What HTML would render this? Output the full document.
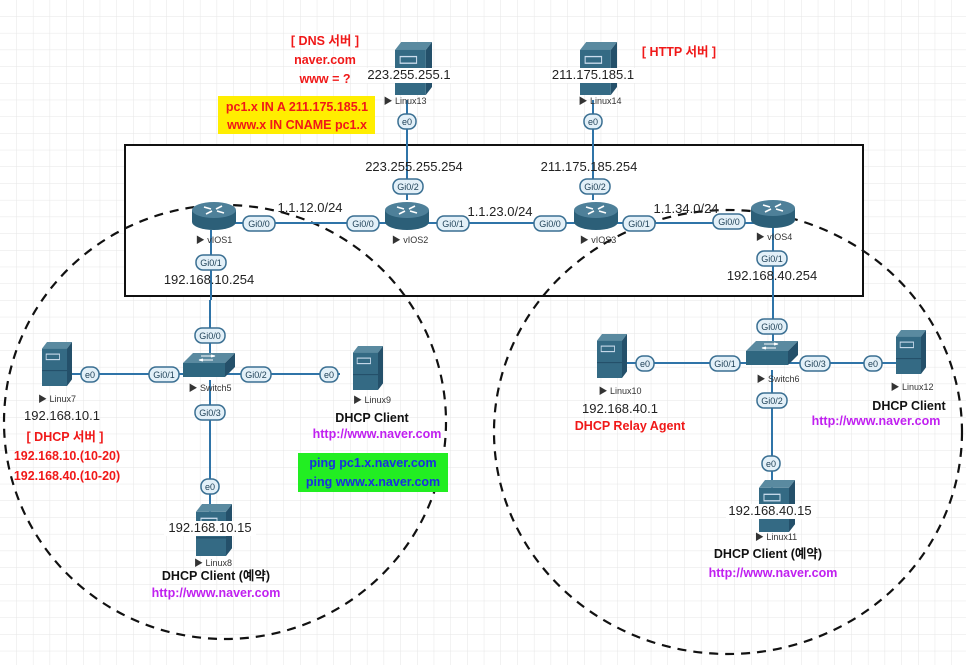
<!DOCTYPE html>
<html><head><meta charset="utf-8"><style>
html,body{margin:0;padding:0;background:#fff}
svg{display:block}
text{font-family:"Liberation Sans","Noto Sans CJK KR",sans-serif}
.ip{font-size:13px;fill:#222}
.nl{font-size:9px;fill:#333}
.pl{font-size:9px;fill:#1d3f55}
.red{font-size:12.5px;font-weight:bold;fill:#f01818}
.blk{font-size:12.5px;font-weight:bold;fill:#111}
.mag{font-size:12.5px;font-weight:bold;fill:#c020f0}
.blu{font-size:12.5px;font-weight:bold;fill:#1830e0}
</style></head><body>
<svg width="966" height="665" viewBox="0 0 966 665" xmlns="http://www.w3.org/2000/svg">
<defs>
<pattern id="g" width="16.7" height="16.7" patternUnits="userSpaceOnUse">
<path d="M16.7 0V16.7H0" fill="none" stroke="#e6e6e6" stroke-width="1"/>
</pattern>
<symbol id="srv" viewBox="0 0 36 40" preserveAspectRatio="none" overflow="visible">
<polygon points="0,6 6,0 36,0 30,6" fill="#5a8aa0"/>
<polygon points="30,6 36,0 36,34 30,40" fill="#24506a"/>
<rect x="0" y="6" width="30" height="34" fill="#346a84"/>
<rect x="5" y="11" width="16" height="5" fill="none" stroke="#cde" stroke-width="1"/>
<line x1="0" y1="26" x2="30" y2="26" stroke="#24506a"/>
</symbol>
<symbol id="rtr" viewBox="0 0 44 30" overflow="visible">
<rect x="0" y="10" width="44" height="12" fill="#2c5f78"/>
<ellipse cx="22" cy="22" rx="22" ry="8" fill="#2c5f78"/>
<ellipse cx="22" cy="10" rx="22" ry="8" fill="#4e8099"/>
<path d="M12 7l7 2M32 13l-7-2M14 14l6-3M30 6l-6 3" stroke="#fff" stroke-width="1.6"/>
</symbol>
<symbol id="sw" viewBox="0 0 52 24" overflow="visible">
<polygon points="0,10 10,0 52,0 42,10" fill="#5a8aa0"/>
<polygon points="42,10 52,0 52,14 42,24" fill="#24506a"/>
<rect x="0" y="10" width="42" height="14" fill="#2f6780"/>
<path d="M18 3h14M16 7h14M28 2l4 1-4 1M20 6l-4 1 4 1" stroke="#fff" stroke-width="1" fill="none"/>
</symbol>
</defs>
<rect width="966" height="665" fill="url(#g)"/>
<rect x="125" y="145" width="738" height="151" fill="#fff" stroke="#111" stroke-width="2"/>

<ellipse cx="225" cy="422" rx="221" ry="217" fill="none" stroke="#111" stroke-width="2.2" stroke-dasharray="9,7"/>
<ellipse cx="728" cy="432" rx="234" ry="222" fill="none" stroke="#111" stroke-width="2.2" stroke-dasharray="9,7"/>

<g stroke="#2f74a8" stroke-width="2" fill="none">
<path d="M407 100V200M593 100V200M214 223H773M211 230V300M773 225V352M210 300V365M58 374H200M210 374H340M210 380V520M773 363H900M613 363H773M772 370V490"/>
</g>

<rect x="218" y="96" width="157" height="38" fill="#ffee00"/>
<rect x="298" y="453" width="150" height="39" fill="#22ee22"/>

<use href="#srv" x="395" y="42" width="37" height="53"/>
<use href="#srv" x="580" y="42" width="37" height="53"/>
<use href="#rtr" x="192" y="200" width="44" height="30"/>
<use href="#rtr" x="385" y="200" width="44" height="30"/>
<use href="#rtr" x="574" y="200" width="44" height="30"/>
<use href="#rtr" x="751" y="198" width="44" height="30"/>
<use href="#sw" x="183" y="353" width="52" height="24"/>
<use href="#sw" x="746" y="341" width="52" height="24"/>
<use href="#srv" x="42" y="342" width="30" height="44"/>
<use href="#srv" x="353" y="346" width="30" height="44"/>
<use href="#srv" x="597" y="334" width="30" height="44"/>
<use href="#srv" x="896" y="330" width="30" height="44"/>
<use href="#srv" x="196" y="504" width="36" height="52"/>
<use href="#srv" x="759" y="480" width="36" height="52"/>
<rect x="366" y="68" width="86" height="15" fill="#fff"/>
<rect x="551" y="68" width="84" height="15" fill="#fff"/>
<rect x="164" y="521" width="92" height="15" fill="#fff"/>
<rect x="726" y="504" width="90" height="15" fill="#fff"/>

<g fill="#e3f0f8" stroke="#3a6f92" stroke-width="1.5">
<rect x="398" y="114" width="18" height="15" rx="7"/>
<rect x="584" y="114" width="18" height="15" rx="7"/>
<rect x="393" y="179" width="30" height="15" rx="7"/>
<rect x="580" y="179" width="30" height="15" rx="7"/>
<rect x="243" y="216" width="32" height="15" rx="7"/>
<rect x="347" y="216" width="32" height="15" rx="7"/>
<rect x="437" y="216" width="32" height="15" rx="7"/>
<rect x="534" y="216" width="32" height="15" rx="7"/>
<rect x="623" y="216" width="32" height="15" rx="7"/>
<rect x="713" y="214" width="32" height="15" rx="7"/>
<rect x="196" y="255" width="30" height="15" rx="7"/>
<rect x="757" y="251" width="30" height="15" rx="7"/>
<rect x="195" y="328" width="30" height="15" rx="7"/>
<rect x="757" y="319" width="30" height="15" rx="7"/>
<rect x="149" y="367" width="30" height="15" rx="7"/>
<rect x="241" y="367" width="30" height="15" rx="7"/>
<rect x="81" y="367" width="18" height="15" rx="7"/>
<rect x="320" y="367" width="18" height="15" rx="7"/>
<rect x="195" y="405" width="30" height="15" rx="7"/>
<rect x="201" y="479" width="18" height="15" rx="7"/>
<rect x="710" y="356" width="30" height="15" rx="7"/>
<rect x="636" y="356" width="18" height="15" rx="7"/>
<rect x="800" y="356" width="30" height="15" rx="7"/>
<rect x="864" y="356" width="18" height="15" rx="7"/>
<rect x="757" y="393" width="30" height="15" rx="7"/>
<rect x="762" y="456" width="18" height="15" rx="7"/>
</g>
<g class="pl" text-anchor="middle">
<text x="407" y="125">e0</text><text x="593" y="125">e0</text>
<text x="408" y="190">Gi0/2</text><text x="595" y="190">Gi0/2</text>
<text x="259" y="227">Gi0/0</text><text x="363" y="227">Gi0/0</text>
<text x="453" y="227">Gi0/1</text><text x="550" y="227">Gi0/0</text>
<text x="639" y="227">Gi0/1</text><text x="729" y="225">Gi0/0</text>
<text x="211" y="266">Gi0/1</text><text x="772" y="262">Gi0/1</text>
<text x="210" y="339">Gi0/0</text><text x="772" y="330">Gi0/0</text>
<text x="164" y="378">Gi0/1</text><text x="256" y="378">Gi0/2</text>
<text x="90" y="378">e0</text><text x="329" y="378">e0</text>
<text x="210" y="416">Gi0/3</text><text x="210" y="490">e0</text>
<text x="725" y="367">Gi0/1</text><text x="645" y="367">e0</text>
<text x="815" y="367">Gi0/3</text><text x="873" y="367">e0</text>
<text x="772" y="404">Gi0/2</text><text x="771" y="467">e0</text>
</g>

<g class="nl" text-anchor="middle">
<text x="405" y="104">▶ Linux13</text><text x="600" y="104">▶ Linux14</text>
<text x="214" y="243">▶ vIOS1</text><text x="410" y="243">▶ vIOS2</text>
<text x="598" y="243">▶ vIOS3</text><text x="774" y="240">▶ vIOS4</text>
<text x="210" y="391">▶ Switch5</text><text x="778" y="382">▶ Switch6</text>
<text x="57" y="402">▶ Linux7</text><text x="372" y="403">▶ Linux9</text>
<text x="620" y="394">▶ Linux10</text><text x="912" y="390">▶ Linux12</text>
<text x="213" y="566">▶ Linux8</text><text x="776" y="540">▶ Linux11</text>
</g>

<g class="ip" text-anchor="middle">
<text x="409" y="79">223.255.255.1</text><text x="593" y="79">211.175.185.1</text>
<text x="414" y="171">223.255.255.254</text><text x="589" y="171">211.175.185.254</text>
<text x="310" y="212">1.1.12.0/24</text><text x="500" y="216">1.1.23.0/24</text>
<text x="686" y="213">1.1.34.0/24</text>
<text x="209" y="284">192.168.10.254</text><text x="772" y="280">192.168.40.254</text>
<text x="62" y="420">192.168.10.1</text><text x="620" y="413">192.168.40.1</text>
<text x="210" y="532">192.168.10.15</text><text x="770" y="515">192.168.40.15</text>
</g>

<g text-anchor="middle">
<text class="red" x="325" y="45">[ DNS 서버 ]</text>
<text class="red" x="325" y="64">naver.com</text>
<text class="red" x="325" y="83">www = ?</text>
<text class="red" x="297" y="111">pc1.x IN A 211.175.185.1</text>
<text class="red" x="297" y="129">www.x IN CNAME pc1.x</text>
<text class="red" x="679" y="56">[ HTTP 서버 ]</text>
<text class="red" x="65" y="441">[ DHCP 서버 ]</text>
<text class="red" x="67" y="460">192.168.10.(10-20)</text>
<text class="red" x="67" y="480">192.168.40.(10-20)</text>
<text class="blk" x="372" y="422">DHCP Client</text>
<text class="mag" x="377" y="438">http://www.naver.com</text>
<text class="blu" x="373" y="467">ping pc1.x.naver.com</text>
<text class="blu" x="373" y="486">ping www.x.naver.com</text>
<text class="blk" x="216" y="580">DHCP Client (예약)</text>
<text class="mag" x="216" y="597">http://www.naver.com</text>
<text class="red" x="630" y="430">DHCP Relay Agent</text>
<text class="blk" x="909" y="410">DHCP Client</text>
<text class="mag" x="876" y="425">http://www.naver.com</text>
<text class="blk" x="768" y="558">DHCP Client (예약)</text>
<text class="mag" x="773" y="577">http://www.naver.com</text>
</g>
</svg>
</body></html>
